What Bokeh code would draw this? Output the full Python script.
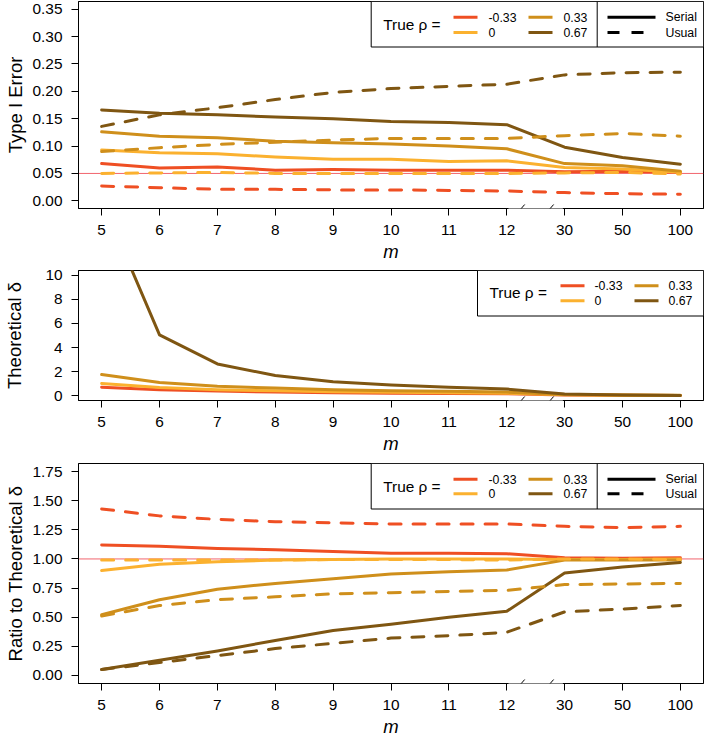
from bokeh.plotting import figure
from bokeh.models import Range1d, FixedTicker, Span, Label, Arrow, NumeralTickFormatter
from bokeh.layouts import column
from bokeh.embed import file_html
from bokeh.resources import INLINE

# ---------------- data ----------------
m_labels = ["5", "6", "7", "8", "9", "10", "11", "12", "30", "50", "100"]
rho_labels = ["-0.33", "0", "0.33", "0.67"]
rho_colors = ["#EF4F23", "#FBB12F", "#CF8F1B", "#7F5612"]

t1_serial_n033 = [0.068, 0.060, 0.062, 0.056, 0.057, 0.056, 0.056, 0.056, 0.053, 0.054, 0.052]
t1_serial_0 = [0.093, 0.088, 0.086, 0.080, 0.076, 0.076, 0.072, 0.073, 0.061, 0.058, 0.052]
t1_serial_033 = [0.126, 0.118, 0.115, 0.109, 0.106, 0.104, 0.100, 0.095, 0.068, 0.064, 0.054]
t1_serial_067 = [0.166, 0.160, 0.157, 0.153, 0.150, 0.145, 0.143, 0.139, 0.098, 0.079, 0.067]
t1_usual_n033 = [0.027, 0.024, 0.021, 0.021, 0.020, 0.020, 0.019, 0.018, 0.015, 0.013, 0.012]
t1_usual_0 = [0.050, 0.051, 0.052, 0.050, 0.050, 0.050, 0.050, 0.050, 0.051, 0.052, 0.049]
t1_usual_033 = [0.090, 0.097, 0.103, 0.107, 0.111, 0.114, 0.114, 0.114, 0.119, 0.123, 0.118]
t1_usual_067 = [0.136, 0.157, 0.170, 0.185, 0.198, 0.205, 0.209, 0.213, 0.230, 0.234, 0.235]

delta_n033 = [0.71, 0.50, 0.38, 0.30, 0.25, 0.21, 0.18, 0.16, 0.06, 0.03, 0.02]
delta_0 = [1.01, 0.68, 0.50, 0.40, 0.33, 0.28, 0.24, 0.21, 0.07, 0.04, 0.02]
delta_033 = [1.76, 1.10, 0.79, 0.63, 0.49, 0.42, 0.36, 0.30, 0.10, 0.06, 0.03]
delta_067 = [16.3, 5.05, 2.64, 1.67, 1.15, 0.88, 0.71, 0.55, 0.14, 0.05, 0.02]

ratio_serial_n033 = [1.12, 1.11, 1.09, 1.08, 1.065, 1.05, 1.05, 1.045, 1.01, 1.005, 1.01]
ratio_serial_0 = [0.90, 0.955, 0.975, 0.99, 0.995, 1.0, 1.0, 1.0, 0.995, 0.995, 1.0]
ratio_serial_033 = [0.52, 0.65, 0.74, 0.79, 0.83, 0.87, 0.89, 0.905, 0.99, 0.99, 0.99]
ratio_serial_067 = [0.05, 0.13, 0.21, 0.30, 0.385, 0.44, 0.50, 0.55, 0.88, 0.93, 0.97]
ratio_usual_n033 = [1.43, 1.37, 1.34, 1.32, 1.31, 1.30, 1.30, 1.30, 1.28, 1.27, 1.28]
ratio_usual_0 = [0.99, 0.99, 0.99, 0.99, 0.995, 0.995, 0.995, 0.99, 1.0, 1.0, 0.995]
ratio_usual_033 = [0.51, 0.60, 0.65, 0.675, 0.70, 0.71, 0.72, 0.73, 0.78, 0.785, 0.79]
ratio_usual_067 = [0.05, 0.11, 0.17, 0.23, 0.275, 0.32, 0.34, 0.37, 0.545, 0.57, 0.60]

t1_ticks = [0.0, 0.05, 0.10, 0.15, 0.20, 0.25, 0.30, 0.35]
delta_ticks = [0, 2, 4, 6, 8, 10]
ratio_ticks = [0.0, 0.25, 0.50, 0.75, 1.00, 1.25, 1.50, 1.75]
alpha_level = 0.05
ratio_ref = 1.0

# ---------------- styling ----------------
FONT = "Liberation Sans"
FW = 625
LEFT = 78
X0, X1 = -0.4, 10.4
x_idx = list(range(len(m_labels)))
BREAK_LO = m_labels.index("12")
BREAK_HI = m_labels.index("30")


def make_panel(ylim, ticks, fmt, ylabel, ylab_standoff, fh, btop, bbot):
    ys, ye = ylim
    p = figure(frame_width=FW, frame_height=fh,
               x_range=Range1d(X0, X1), y_range=Range1d(ys, ye),
               output_backend="svg", toolbar_location=None,
               min_border_left=LEFT, min_border_right=2,
               min_border_top=btop, min_border_bottom=bbot)
    p.grid.visible = False
    p.outline_line_color = "black"
    p.outline_line_width = 1
    p.background_fill_color = "white"
    p.border_fill_color = "white"
    for ax in (p.xaxis[0], p.yaxis[0]):
        ax.axis_line_color = "black"
        ax.major_tick_line_color = "black"
        ax.minor_tick_line_color = None
        ax.major_tick_in = 0
        ax.major_tick_out = 7
        ax.major_label_text_font = FONT
        ax.major_label_text_font_size = "15.4px"
        ax.major_label_text_color = "black"
        ax.axis_label_text_font = FONT
        ax.axis_label_text_font_size = "18.5px"
        ax.axis_label_text_color = "black"
    xa = p.xaxis[0]
    xa.ticker = FixedTicker(ticks=x_idx)
    xa.major_label_overrides = {i: lab for i, lab in enumerate(m_labels)}
    xa.major_label_standoff = 9
    xa.axis_label = "m"
    xa.axis_label_text_font_style = "italic"
    xa.axis_label_standoff = 3
    ya = p.yaxis[0]
    ya.ticker = FixedTicker(ticks=ticks)
    if fmt:
        ya.formatter = NumeralTickFormatter(format=fmt)
    ya.major_label_standoff = 9
    ya.axis_label = ylabel
    ya.axis_label_text_font_style = "normal"
    ya.axis_label_standoff = ylab_standoff

    dxu = (X1 - X0) / FW
    dyu = (ye - ys) / fh
    # axis break: gap in the bottom line between "12" and "30" plus two slashes
    p.add_layout(Arrow(start=None, end=None, x_start=BREAK_LO + 0.03, y_start=ys,
                       x_end=BREAK_HI - 0.03, y_end=ys, line_color="white", line_width=3))
    for xb in (BREAK_LO + 0.25, BREAK_HI - 0.25):
        p.add_layout(Arrow(start=None, end=None,
                           x_start=xb - 3.5 * dxu, y_start=ys - 4 * dyu,
                           x_end=xb + 3.5 * dxu, y_end=ys + 4 * dyu,
                           line_color="black", line_width=1))
    p._conv = (ys, ye, fh)
    return p


def fx(px):
    return X0 + px / FW * (X1 - X0)


def fy(p, py):
    ys, ye, fh = p._conv
    return ye - py / fh * (ye - ys)


def add_lines(p, series, dash):
    for vals, col in zip(series, rho_colors):
        p.line(x_idx, vals, line_color=col, line_width=3, line_cap="round",
               line_join="round", line_dash=dash)


def add_legend(p, box_left, title_x, title_y, c1, c2, rows, lab_dx, with_type):
    p.quad(left=[fx(box_left)], right=[fx(FW)], top=[fy(p, 0)], bottom=[fy(p, 45.5)],
           fill_color="white", line_color="black", line_width=1)
    p.add_layout(Label(x=fx(title_x), y=fy(p, title_y), text="True \u03c1 =",
                       text_font=FONT, text_font_size="15.4px", text_baseline="middle",
                       text_align="left", text_color="black"))
    for k, (lab, col) in enumerate(zip(rho_labels, rho_colors)):
        cx = c1 if k < 2 else c2
        ry = rows[k % 2]
        p.segment(x0=[fx(cx)], y0=[fy(p, ry)], x1=[fx(cx + 24)], y1=[fy(p, ry)],
                  line_color=col, line_width=3)
        p.add_layout(Label(x=fx(cx + 24 + lab_dx), y=fy(p, ry), text=lab,
                           text_font=FONT, text_font_size="12.3px", text_baseline="middle",
                           text_align="left", text_color="black"))
    if with_type:
        p.segment(x0=[fx(518.7)], y0=[fy(p, 0)], x1=[fx(518.7)], y1=[fy(p, 45.5)],
                  line_color="black", line_width=1)
        for k, (lab, dash) in enumerate((("Serial", "solid"), ("Usual", "12 12"))):
            ry = rows[k]
            p.segment(x0=[fx(529)], y0=[fy(p, ry)], x1=[fx(577)], y1=[fy(p, ry)],
                      line_color="black", line_width=3, line_dash=dash)
            p.add_layout(Label(x=fx(587), y=fy(p, ry), text=lab,
                               text_font=FONT, text_font_size="12.3px", text_baseline="middle",
                               text_align="left", text_color="black"))


ref_color = "#EE4A55"

# Panel 1: Type I error
p1 = make_panel((-0.014, 0.364), t1_ticks, "0.00", "Type I Error", 4, 207, 1, 56)
p1.add_layout(Span(location=alpha_level, dimension="width", line_color=ref_color,
                   line_width=1, line_alpha=0.85, level="underlay"))
add_lines(p1, [t1_serial_n033, t1_serial_0, t1_serial_033, t1_serial_067], "solid")
add_lines(p1, [t1_usual_n033, t1_usual_0, t1_usual_033, t1_usual_067], "12 12")
add_legend(p1, 292.7, 304.7, 23, 375, 450, (15.7, 31), 11, True)

# Panel 2: theoretical delta
p2 = make_panel((-0.4, 10.4), delta_ticks, None, "Theoretical \u03b4", 17, 130, 6, 56)
add_lines(p2, [delta_n033, delta_0, delta_033, delta_067], "solid")
add_legend(p2, 399, 411, 21.5, 482, 556, (15.3, 30.3), 10, False)

# Panel 3: ratio to theoretical delta
p3 = make_panel((-0.07, 1.82), ratio_ticks, "0.00", "Ratio to Theoretical \u03b4", 4, 220, 7, 56)
p3.add_layout(Span(location=ratio_ref, dimension="width", line_color=ref_color,
                   line_width=1, line_alpha=0.85, level="underlay"))
add_lines(p3, [ratio_serial_n033, ratio_serial_0, ratio_serial_033, ratio_serial_067], "solid")
add_lines(p3, [ratio_usual_n033, ratio_usual_0, ratio_usual_033, ratio_usual_067], "12 12")
add_legend(p3, 292.7, 304.7, 22.5, 375, 450, (15.7, 30.3), 11, True)

layout = column(p1, p2, p3, spacing=0)
open("out.html", "w").write(file_html(layout, INLINE))
